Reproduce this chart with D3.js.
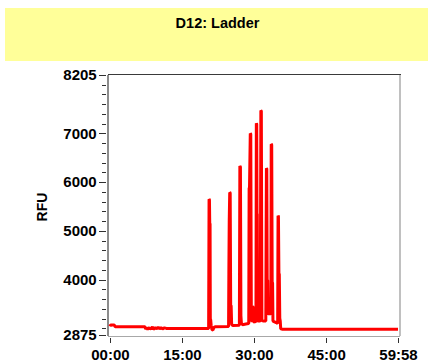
<!DOCTYPE html>
<html>
<head>
<meta charset="utf-8">
<script src="https://cdn.jsdelivr.net/npm/d3@7"></script>
<style>
  html, body { margin: 0; padding: 0; background: #fff; }
  svg { display: block; }
  text { font-family: "Liberation Sans", Arial, sans-serif; font-weight: bold; fill: #000; }
</style>
</head>
<body>
<svg id="chart" width="428" height="364"></svg>
<script>
// Electropherogram of well D12 (size ladder)
const title = "D12: Ladder";
const yLabel = "RFU";

const xTickValues = [0, 15, 30, 45, 59.967];
const xTickLabels = ["00:00", "15:00", "30:00", "45:00", "59:58"];
const yTickValues = [2875, 4000, 5000, 6000, 7000, 8205];
const yTickLabels = ["2875", "4000", "5000", "6000", "7000", "8205"];
const yMinorTicks = [3000, 3200, 3400, 3600, 3800, 4200, 4400, 4600, 4800,
  5200, 5400, 5600, 5800, 6200, 6400, 6600, 6800, 7200, 7400, 7600, 7800, 8000];

// run time (minutes) and fluorescence (RFU)
const traceMinutes = [
  0.00, 0.15, 0.90, 1.10, 7.30, 7.45, 7.65, 7.85, 8.15, 8.35, 8.65, 8.85, 9.05,
  9.45, 9.75, 10.05, 10.35, 10.65, 10.95, 11.35, 11.75, 20.55,
  20.64, 20.72, 20.78, 20.85, 20.90, 20.98, 21.08, 21.25, 21.45, 21.65, 22.00,
  24.70, 24.76, 24.84, 24.94, 25.04, 25.14, 25.24, 25.34, 25.60,
  26.95, 27.05, 27.17, 27.27, 27.37, 27.60, 28.30,
  28.90, 28.98, 29.06, 29.22, 29.32, 29.44, 29.58, 29.70, 29.78, 29.88,
  30.40, 30.48, 30.56, 30.62, 30.68, 30.74, 31.30,
  31.42, 31.52, 31.64, 32.00, 32.45,
  32.52, 32.58, 32.66, 32.74, 32.84, 32.92, 33.50,
  33.58, 33.68, 33.78, 33.86, 33.94, 34.60, 34.92,
  35.00, 35.08, 35.18, 35.26, 35.36, 35.46, 35.56, 35.80, 59.967
];
const traceRFU = [
  3040, 3070, 3068, 3035, 3035, 2985, 3010, 2980, 3020, 2988, 3002, 3030, 2985,
  3012, 2990, 3025, 2990, 3015, 2990, 3010, 3000, 3000,
  5650, 5640, 5160, 5140, 3200, 3175, 3060, 2975, 2968, 3020, 3035,
  3040, 4130, 5220, 5790, 5780, 3480, 3460, 3080, 3060,
  3065, 6330, 6310, 3260, 3110, 3075, 3090,
  3100, 5875, 5890, 7000, 6990, 3200, 3130, 3450, 3440, 3130,
  3140, 7210, 7190, 5360, 5340, 3150, 3150,
  7470, 7460, 3160, 3150, 3150,
  5020, 6285, 6270, 3990, 3980, 3300, 3300,
  6780, 6770, 3950, 3930, 3150, 3120, 3100,
  5310, 5300, 4130, 4110, 3210, 3150, 2990, 2985, 2985
];

const svg = d3.select("#chart");

// title band
svg.append("rect")
  .attr("x", 5).attr("y", 8).attr("width", 423).attr("height", 53)
  .attr("fill", "#ffff99");
svg.append("text")
  .attr("x", 217.5).attr("y", 28.3)
  .attr("text-anchor", "middle")
  .style("font-size", "14.5px")
  .text(title);

// scales
const x = d3.scaleLinear().domain([-0.5, 59.967]).range([107.5, 398]);
const y = d3.scaleLinear().domain([2875, 8205]).range([334.5, 74.7]);

const plot = { left: 108, top: 74.5, right: 399.5, bottom: 336 };

// plot frame
const frame = svg.append("g").attr("shape-rendering", "crispEdges");
frame.append("line")
  .attr("x1", plot.left).attr("x2", plot.right + 1)
  .attr("y1", plot.top).attr("y2", plot.top)
  .attr("stroke", "#3a3a3a").attr("stroke-width", 1.5);
frame.append("line")
  .attr("x1", plot.right).attr("x2", plot.right)
  .attr("y1", plot.top).attr("y2", plot.bottom)
  .attr("stroke", "#c0c0c0").attr("stroke-width", 2);
frame.append("line")
  .attr("x1", plot.left).attr("x2", plot.right)
  .attr("y1", plot.bottom).attr("y2", plot.bottom)
  .attr("stroke", "#a8a8a8").attr("stroke-width", 1);
frame.append("line")
  .attr("x1", plot.left).attr("x2", plot.left)
  .attr("y1", plot.top).attr("y2", plot.bottom)
  .attr("stroke", "#8c8c8c").attr("stroke-width", 1.5);

// y axis: minor ticks
const yMinor = svg.append("g")
  .attr("transform", "translate(106,0)")
  .attr("shape-rendering", "crispEdges")
  .call(d3.axisLeft(y).tickValues(yMinorTicks).tickSize(4).tickFormat(""));
yMinor.select(".domain").remove();
yMinor.selectAll(".tick line").attr("stroke", "#303030");

// y axis: major ticks and labels
const yMajor = svg.append("g")
  .attr("transform", "translate(106,0)")
  .call(d3.axisLeft(y).tickValues(yTickValues).tickSize(7).tickPadding(2.3)
    .tickFormat((d, i) => yTickLabels[i]));
yMajor.select(".domain").remove();
yMajor.selectAll(".tick line").attr("stroke", "#303030").attr("shape-rendering", "crispEdges");
yMajor.selectAll(".tick text")
  .style("font-size", "15px").style("font-family", "'Liberation Sans', Arial, sans-serif")
  .style("font-weight", "bold").attr("fill", "#000");

// x axis
const xAxis = svg.append("g")
  .attr("transform", "translate(0,338)")
  .call(d3.axisBottom(x).tickValues(xTickValues).tickSize(5).tickPadding(6.5)
    .tickFormat((d, i) => xTickLabels[i]));
xAxis.select(".domain").remove();
xAxis.selectAll(".tick line").attr("stroke", "#303030").attr("shape-rendering", "crispEdges");
xAxis.selectAll(".tick text")
  .style("font-size", "15px").style("font-family", "'Liberation Sans', Arial, sans-serif")
  .style("font-weight", "bold").attr("fill", "#000");

// y axis title
svg.append("text")
  .attr("transform", "translate(42,207) rotate(-90)")
  .attr("text-anchor", "middle")
  .attr("dominant-baseline", "central")
  .style("font-size", "14px")
  .text(yLabel);

// trace
const points = traceMinutes.map((t, i) => [t, traceRFU[i]]);
const line = d3.line().x(d => x(d[0])).y(d => y(d[1]));
svg.append("path")
  .datum(points)
  .attr("d", line)
  .attr("fill", "none")
  .attr("stroke", "#ff0000")
  .attr("stroke-width", 3)
  .attr("stroke-linejoin", "bevel");
</script>
</body>
</html>
